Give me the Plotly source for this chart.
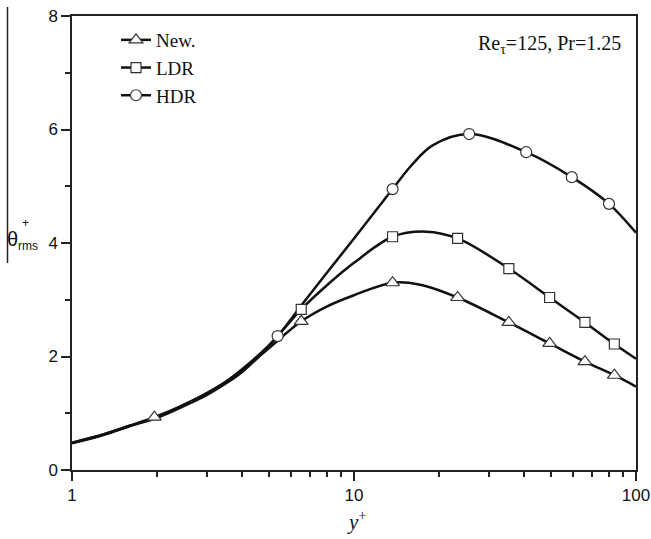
import plotly.graph_objects as go

# ---- data ----
series_names = ["New.", "LDR", "HDR"]
symbols = ["triangle-up", "square", "circle"]

new_curve_x = [1, 1.3, 1.6, 1.96, 2.5, 3, 3.5, 4, 5, 6.5, 8, 10, 13.7, 17, 23.3, 35.4, 49.4, 65.9, 83.8, 100]
new_curve_y = [0.48, 0.63, 0.78, 0.93, 1.15, 1.35, 1.55, 1.75, 2.15, 2.62, 2.88, 3.08, 3.30, 3.27, 3.04, 2.60, 2.23, 1.91, 1.67, 1.47]
new_mark_x = [1.96, 6.5, 13.7, 23.3, 35.4, 49.4, 65.9, 83.8]
new_mark_y = [0.93, 2.62, 3.30, 3.04, 2.60, 2.23, 1.91, 1.67]

ldr_curve_x = [1, 1.3, 1.6, 2, 2.5, 3, 3.5, 4, 5, 6.5, 8, 10, 13.7, 18, 23.3, 35.4, 49.4, 65.9, 83.8, 100]
ldr_curve_y = [0.48, 0.63, 0.78, 0.93, 1.15, 1.35, 1.55, 1.77, 2.2, 2.83, 3.25, 3.65, 4.11, 4.20, 4.08, 3.55, 3.04, 2.60, 2.22, 1.96]
ldr_mark_x = [6.5, 13.7, 23.3, 35.4, 49.4, 65.9, 83.8]
ldr_mark_y = [2.83, 4.11, 4.08, 3.55, 3.04, 2.60, 2.22]

hdr_curve_x = [1, 1.3, 1.6, 2, 2.5, 3, 3.5, 4, 5.36, 6.5, 8, 10, 13.7, 16, 19, 25.6, 40.8, 59.2, 80.2, 100]
hdr_curve_y = [0.47, 0.62, 0.77, 0.92, 1.13, 1.32, 1.52, 1.72, 2.36, 2.90, 3.47, 4.08, 4.95, 5.37, 5.72, 5.92, 5.60, 5.16, 4.69, 4.18]
hdr_mark_x = [5.36, 13.7, 25.6, 40.8, 59.2, 80.2]
hdr_mark_y = [2.36, 4.95, 5.92, 5.60, 5.16, 4.69]

x_tick_vals = [1, 10, 100]
x_minor_vals = [2, 3, 4, 5, 6, 7, 8, 9, 20, 30, 40, 50, 60, 70, 80, 90]
y_tick_vals = [0, 2, 4, 6, 8]

curves = [(new_curve_x, new_curve_y), (ldr_curve_x, ldr_curve_y), (hdr_curve_x, hdr_curve_y)]
marks = [(new_mark_x, new_mark_y), (ldr_mark_x, ldr_mark_y), (hdr_mark_x, hdr_mark_y)]

LINE = "#111111"
MK_LINE = "#333333"
msizes = [12, 10, 11]

fig = go.Figure()
for (cx, cy) in curves:
    fig.add_trace(go.Scatter(x=cx, y=cy, mode="lines", line=dict(color=LINE, width=2.5, shape="spline", smoothing=1.0),
                             showlegend=False, hoverinfo="skip"))
for (mx, my), sym, ms in zip(marks, symbols, msizes):
    fig.add_trace(go.Scatter(x=mx, y=my, mode="markers", showlegend=False,
                             marker=dict(symbol=sym, size=ms, color="white",
                                         line=dict(color=MK_LINE, width=1.2))))
for name, sym, ms in zip(series_names, symbols, msizes):
    fig.add_trace(go.Scatter(x=[None], y=[None], mode="lines+markers", name=name,
                             line=dict(color=LINE, width=2.5),
                             marker=dict(symbol=sym, size=ms, color="white",
                                         line=dict(color=MK_LINE, width=1.2))))

L, R, T, B = 72, 15, 16, 69
W, H = 651, 539
pw, ph = W - L - R, H - T - B

def px_to_paper_x(px):
    return (px - L) / pw

def px_to_paper_y(py):
    return (H - B - py) / ph

axis_common = dict(showline=True, linecolor="#222222", linewidth=1.5, mirror=True,
                   ticks="outside", tickcolor="#222222", tickwidth=1.5, ticklen=9,
                   showgrid=False, zeroline=False, automargin=False,
                   tickfont=dict(family="Liberation Sans, Arial", size=17, color="#111111"))

fig.update_xaxes(type="log", range=[0, 2], tickvals=x_tick_vals, ticktext=[str(v) for v in x_tick_vals],
                 minor=dict(tickvals=x_minor_vals, ticks="outside", ticklen=5, tickwidth=1.5, tickcolor="#222222"),
                 **axis_common)
fig.update_yaxes(range=[0, 8], tickvals=y_tick_vals,
                 minor=dict(dtick=1, ticks="outside", ticklen=5, tickwidth=1.5, tickcolor="#222222"),
                 **axis_common)

fig.update_layout(
    width=W, height=H,
    margin=dict(l=L, r=R, t=T, b=B),
    paper_bgcolor="white", plot_bgcolor="white",
    showlegend=True,
    legend=dict(x=px_to_paper_x(116), y=px_to_paper_y(21), xanchor="left", yanchor="top",
                bgcolor="rgba(0,0,0,0)", font=dict(family="Liberation Serif, Times New Roman", size=19, color="#111111"),
                tracegroupgap=0, itemsizing="trace"),
    annotations=[
        dict(text="Re<sub>τ</sub>=125, Pr=1.25", x=px_to_paper_x(623), y=px_to_paper_y(44),
             xref="paper", yref="paper", xanchor="right", yanchor="middle", showarrow=False,
             font=dict(family="Liberation Serif, Times New Roman", size=20, color="#111111")),
        dict(text="θ", x=px_to_paper_x(5), y=px_to_paper_y(239), xref="paper", yref="paper",
             xanchor="left", yanchor="middle", showarrow=False,
             font=dict(family="Liberation Sans, Arial", size=20, color="#111111")),
        dict(text="+", x=px_to_paper_x(25), y=px_to_paper_y(223), xref="paper", yref="paper",
             xanchor="center", yanchor="middle", showarrow=False,
             font=dict(family="Liberation Sans, Arial", size=12, color="#111111")),
        dict(text="rms", x=px_to_paper_x(16), y=px_to_paper_y(246), xref="paper", yref="paper",
             xanchor="left", yanchor="middle", showarrow=False,
             font=dict(family="Liberation Sans, Arial", size=12, color="#111111")),
        dict(text="<i>y</i><sup>+</sup>", x=px_to_paper_x(357), y=px_to_paper_y(520), xref="paper", yref="paper",
             xanchor="center", yanchor="middle", showarrow=False,
             font=dict(family="Liberation Serif, Times New Roman", size=21, color="#111111")),
    ],
    shapes=[
        dict(type="line", xref="paper", yref="paper", x0=px_to_paper_x(7.5), x1=px_to_paper_x(7.5),
             y0=px_to_paper_y(7), y1=px_to_paper_y(263), line=dict(color="#222222", width=1.5)),
    ],
)

fig.write_html("out.html")
